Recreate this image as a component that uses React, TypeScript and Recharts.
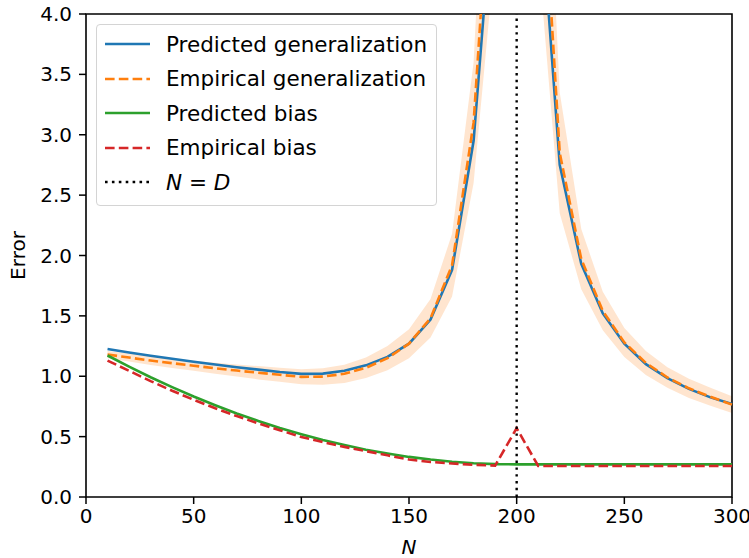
import React from "react";
import {
    ComposedChart,
    Line,
    Area,
    XAxis,
    YAxis,
    ReferenceLine,
    ReferenceArea,
} from "recharts";

// training set sizes, D = 200
const ns = [10, 20, 30, 40, 50, 60, 70, 80, 90, 100, 110, 120, 130, 140, 150, 160, 170, 180, 190, 200,
    210, 220, 230, 240, 250, 260, 270, 280, 290, 300];

const predGen = [1.225, 1.197, 1.17, 1.145, 1.12, 1.097, 1.075, 1.055, 1.035, 1.02, 1.022, 1.045, 1.09, 1.16, 1.27,
    1.47, 1.88, 2.95, 5.2, null, 5.2, 2.75, 1.93, 1.52, 1.27, 1.1, 0.985, 0.895, 0.825, 0.77];

const empGen = [1.18, 1.155, 1.13, 1.108, 1.087, 1.066, 1.047, 1.029, 1.012, 0.995, 0.997, 1.02, 1.07, 1.15, 1.27,
    1.48, 1.92, 3.1, 5.8, null, 5.8, 2.85, 1.97, 1.54, 1.28, 1.11, 0.99, 0.9, 0.83, 0.765];

const empLow = [1.15, 1.122, 1.094, 1.068, 1.045, 1.021, 0.997, 0.974, 0.954, 0.933, 0.93, 0.945, 0.985, 1.05, 1.15,
    1.32, 1.66, 2.6, 4.5, null, 4.5, 2.35, 1.72, 1.38, 1.16, 1.01, 0.905, 0.82, 0.755, 0.695];

const empHigh = [1.21, 1.188, 1.166, 1.148, 1.129, 1.111, 1.097, 1.084, 1.07, 1.057, 1.066, 1.095, 1.155, 1.25, 1.39,
    1.64, 2.18, 3.6, 7.1, null, 7.1, 3.35, 2.22, 1.7, 1.4, 1.21, 1.075, 0.98, 0.905, 0.835];

const predBias = [1.172, 1.08, 0.992, 0.91, 0.832, 0.76, 0.692, 0.63, 0.572, 0.52, 0.472, 0.43, 0.392, 0.36, 0.332,
    0.31, 0.292, 0.28, 0.272, 0.27, 0.27, 0.27, 0.27, 0.27, 0.27, 0.27, 0.27, 0.27, 0.27, 0.27];

const empBias = [1.13, 1.045, 0.96, 0.88, 0.805, 0.735, 0.67, 0.61, 0.553, 0.497, 0.455, 0.415, 0.38, 0.345, 0.31,
    0.29, 0.277, 0.267, 0.26, 0.57, 0.257, 0.257, 0.257, 0.257, 0.257, 0.257, 0.257, 0.257, 0.257, 0.257];

const xTicks = [0, 50, 100, 150, 200, 250, 300];
const yTicks = [0, 0.5, 1, 1.5, 2, 2.5, 3, 3.5, 4];

const data = ns.map((n, i) => ({
    n,
    predGen: predGen[i],
    empGen: empGen[i],
    band: empLow[i] == null ? null : [empLow[i], empHigh[i]],
    predBias: predBias[i],
    empBias: empBias[i],
}));

const FONT = "DejaVu Sans, sans-serif";
const tickStyle = { fill: "#000", fontSize: 20, fontFamily: FONT };

const legendItems = [
    { label: "Predicted generalization", color: "#1f77b4", dash: undefined },
    { label: "Empirical generalization", color: "#ff7f0e", dash: "9.6 4.2" },
    { label: "Predicted bias", color: "#2ca02c", dash: undefined },
    { label: "Empirical bias", color: "#d62728", dash: "9.6 4.2" },
    { label: "N = D", color: "#000", dash: "2.6 4.3", math: true },
];

function LegendBox() {
    return (
        <div
            style={{
                position: "absolute",
                left: 96,
                top: 24,
                width: 341,
                height: 182,
                boxSizing: "border-box",
                border: "1px solid #d4d4d4",
                borderRadius: 4,
                background: "rgba(255,255,255,0.8)",
                paddingTop: 2,
                fontFamily: FONT,
                fontSize: 21.5,
                color: "#000",
            }}
        >
            {legendItems.map((it) => (
                <div key={it.label} style={{ height: 34.5, display: "flex", alignItems: "center" }}>
                    <svg width={61} height={10} style={{ marginLeft: 8, flexShrink: 0 }}>
                        <line x1={0} y1={5} x2={45} y2={5} stroke={it.color} strokeWidth={2.6} strokeDasharray={it.dash} />
                    </svg>
                    {it.math ? (
                        <span>
                            <i>N</i> = <i>D</i>
                        </span>
                    ) : (
                        <span>{it.label}</span>
                    )}
                </div>
            ))}
        </div>
    );
}

export default function App() {
    return (
        <div style={{ position: "absolute", left: 0, top: 0, width: 749, height: 558, background: "#fff" }}>
            <ComposedChart width={749} height={558} data={data} margin={{ top: 14, right: 17, bottom: 0, left: 0 }}>
                <XAxis
                    dataKey="n"
                    type="number"
                    domain={[0, 300]}
                    ticks={xTicks}
                    height={61}
                    axisLine={false}
                    tickSize={7}
                    tickMargin={5}
                    tick={tickStyle}
                    tickLine={{ stroke: "#000", strokeWidth: 1.5 }}
                    label={() => (
                        <text x={409} y={554} textAnchor="middle" fontFamily={FONT} fontSize={20} fontStyle="italic" fill="#000">
                            N
                        </text>
                    )}
                />
                <YAxis
                    type="number"
                    domain={[0, 4]}
                    ticks={yTicks}
                    allowDataOverflow
                    width={86}
                    axisLine={false}
                    tickSize={7}
                    tickMargin={7}
                    tick={tickStyle}
                    tickLine={{ stroke: "#000", strokeWidth: 1.5 }}
                    tickFormatter={(v: number) => v.toFixed(1)}
                    label={() => (
                        <text
                            x={25}
                            y={255.5}
                            transform="rotate(-90 25 255.5)"
                            textAnchor="middle"
                            fontFamily={FONT}
                            fontSize={20}
                            fill="#000"
                        >
                            Error
                        </text>
                    )}
                />
                <Area
                    dataKey="band"
                    stroke="none"
                    fill="#ff7f0e"
                    fillOpacity={0.2}
                    isAnimationActive={false}
                    dot={false}
                    activeDot={false}
                />
                <Line dataKey="predGen" stroke="#1f77b4" strokeWidth={2.6} dot={false} isAnimationActive={false} />
                <Line dataKey="empGen" stroke="#ff7f0e" strokeWidth={2.6} strokeDasharray="9.6 4.2" dot={false} isAnimationActive={false} />
                <Line dataKey="predBias" stroke="#2ca02c" strokeWidth={2.6} dot={false} isAnimationActive={false} />
                <Line dataKey="empBias" stroke="#d62728" strokeWidth={2.6} strokeDasharray="9.6 4.2" dot={false} isAnimationActive={false} />
                <ReferenceLine x={200} stroke="#000" strokeWidth={2.4} strokeDasharray="2.4 4.4" />
                <ReferenceArea x1={0} x2={300} y1={0} y2={4} fill="none" stroke="#000" strokeWidth={1.6} fillOpacity={0} />
            </ComposedChart>
            <LegendBox />
        </div>
    );
}
